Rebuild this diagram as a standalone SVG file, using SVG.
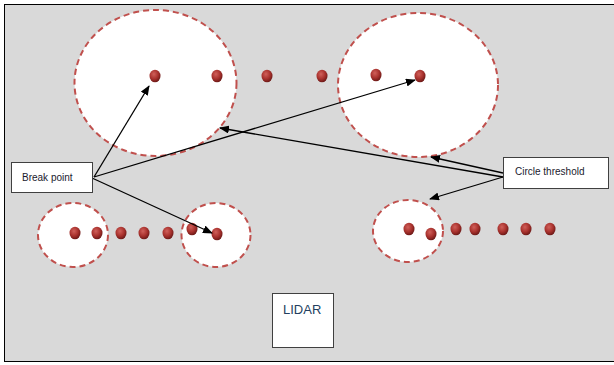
<svg xmlns="http://www.w3.org/2000/svg" width="614" height="365" viewBox="0 0 614 365">
<defs>
<radialGradient id="dg" cx="0.4" cy="0.35" r="0.65">
<stop offset="0" stop-color="#d0605a"/>
<stop offset="0.6" stop-color="#a8312d"/>
<stop offset="1" stop-color="#6e1a18"/>
</radialGradient>
<marker id="ah" markerWidth="10" markerHeight="8" refX="9" refY="4" orient="auto" markerUnits="userSpaceOnUse">
<path d="M0,0 L10,4 L0,8 Z" fill="#000"/>
</marker>
<style>
.thr{fill:#fff;stroke:#c0504d;stroke-width:2;stroke-dasharray:6 4}
.dot{fill:url(#dg)}
.box{fill:#fff;stroke:#404040;stroke-width:1}
.lbl{font-family:"Liberation Sans",Arial,sans-serif;font-size:10px;fill:#1a1a2e}
.con{stroke:#000;stroke-width:1.3;fill:none;marker-end:url(#ah)}
</style>
</defs>
<rect x="4.5" y="4.5" width="610" height="357" fill="#d9d9d9" stroke="#000" stroke-width="1"/>
<g id="thresholds">
<ellipse class="thr" cx="155.5" cy="83" rx="81" ry="73"/>
<ellipse class="thr" cx="418" cy="85" rx="80" ry="72"/>
<ellipse class="thr" cx="73" cy="235" rx="35" ry="32"/>
<ellipse class="thr" cx="216" cy="235" rx="34.5" ry="32"/>
<ellipse class="thr" cx="408" cy="231" rx="35" ry="31"/>
</g>
<g id="points">
<ellipse class="dot" cx="155" cy="76" rx="5.5" ry="6.3"/>
<ellipse class="dot" cx="217" cy="76" rx="5.5" ry="6.3"/>
<ellipse class="dot" cx="267" cy="76" rx="5.5" ry="6.3"/>
<ellipse class="dot" cx="322" cy="76" rx="5.5" ry="6.3"/>
<ellipse class="dot" cx="376" cy="75" rx="5.5" ry="6.3"/>
<ellipse class="dot" cx="420" cy="76" rx="5.5" ry="6.3"/>
<ellipse class="dot" cx="75" cy="233" rx="5.5" ry="6.3"/>
<ellipse class="dot" cx="97" cy="233" rx="5.5" ry="6.3"/>
<ellipse class="dot" cx="121" cy="233" rx="5.5" ry="6.3"/>
<ellipse class="dot" cx="144" cy="233" rx="5.5" ry="6.3"/>
<ellipse class="dot" cx="168" cy="233" rx="5.5" ry="6.3"/>
<ellipse class="dot" cx="192" cy="229" rx="5.5" ry="6.3"/>
<ellipse class="dot" cx="217" cy="234" rx="5.5" ry="6.3"/>
<ellipse class="dot" cx="409" cy="229" rx="5.5" ry="6.3"/>
<ellipse class="dot" cx="431" cy="234" rx="5.5" ry="6.3"/>
<ellipse class="dot" cx="456" cy="229" rx="5.5" ry="6.3"/>
<ellipse class="dot" cx="475" cy="229" rx="5.5" ry="6.3"/>
<ellipse class="dot" cx="503" cy="229" rx="5.5" ry="6.3"/>
<ellipse class="dot" cx="526" cy="229" rx="5.5" ry="6.3"/>
<ellipse class="dot" cx="550" cy="229" rx="5.5" ry="6.3"/>
</g>
<g id="connectors">
<line class="con" x1="94" y1="177" x2="149" y2="86"/>
<line class="con" x1="94" y1="177" x2="415" y2="80"/>
<line class="con" x1="92" y1="178" x2="212" y2="233"/>
<line class="con" x1="503" y1="177" x2="220" y2="128"/>
<line class="con" x1="503" y1="173" x2="431" y2="157"/>
<line class="con" x1="503" y1="177" x2="430" y2="199"/>
</g>
<g id="break-point">
<rect class="box" x="11.5" y="162.5" width="81" height="30"/>
<text class="lbl" x="22" y="181">Break point</text>
</g>
<g id="circle-threshold">
<rect class="box" x="503.5" y="157.5" width="105" height="31"/>
<text class="lbl" x="515" y="175">Circle threshold</text>
</g>
<g id="lidar">
<rect class="box" x="272.5" y="293.5" width="61" height="54"/>
<text x="283" y="314" font-family="Liberation Sans, Arial, sans-serif" font-size="13" fill="#243f60">LIDAR</text>
</g>
</svg>
